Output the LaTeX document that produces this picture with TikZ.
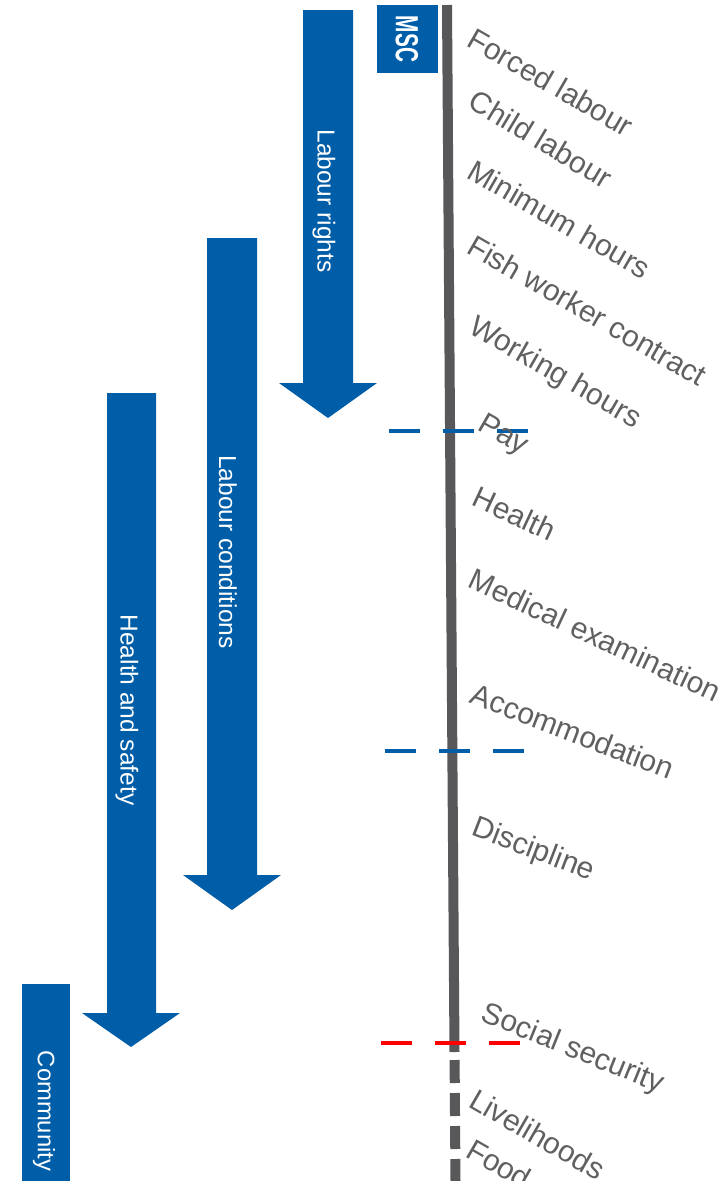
\documentclass[tikz,border=0pt]{standalone}
\usepackage{fontspec}
\setmainfont{Liberation Sans}
\usepackage{xcolor}
\usetikzlibrary{positioning, calc}
\definecolor{mscblue}{RGB}{0,94,168}
\definecolor{axisgrey}{RGB}{88,88,90}
\definecolor{topicgrey}{RGB}{96,96,96}

\begin{document}
\begin{tikzpicture}[x=1pt, y=-1pt,
    bar/.style={fill=mscblue},
    bartext/.style={text=white, rotate=-90, inner sep=0pt, font=\fontsize{24.5}{26}\selectfont},
    topic/.style={text=topicgrey, anchor=north west, inner sep=0pt, font=\fontsize{30}{32}\selectfont},
    axis/.style={draw=axisgrey, line width=10pt},
    split/.style={line width=3.5pt, dash pattern=on 31pt off 23pt}]
              \useasboundingbox (0,0) rectangle (718,1181);
              % the three blue arrows
              \fill[bar] (303,10) -- (353,10) -- (353,383) -- (377,383) -- (328,418) -- (279,383) -- (303,383) -- cycle;
              \fill[bar] (207,238) -- (257,238) -- (257,875) -- (281,875) -- (232,910) -- (183,875) -- (207,875) -- cycle;
              \fill[bar] (107,393) -- (156,393) -- (156,1013) -- (180,1013) -- (131,1047) -- (82,1013) -- (107,1013) -- cycle;
              \node[bartext] (rights) at (324,201) {Labour rights};
              \node[bartext] (cond) at (228,552) {Labour conditions};
              \node[bartext] (safety) at (127,710) {Health and safety};
              % boxes
              \fill[bar] (377,5) rectangle (438,73);
              \node[bartext, font=\fontsize{32}{34}\bfseries] (msc) at (407,39) {\scalebox{0.65}[1]{MSC}};
              \fill[bar] (22,984) rectangle (70,1181);
              \node[bartext, font=\fontsize{23.8}{25}\selectfont] (comm) at (44,1111) {Community};
              % the grey scale line
              \coordinate (top) at (447,5);
              \coordinate (mid) at (454.5,1052);
              \coordinate (low) at (454.6,1060);
              \coordinate (bot) at (455.5,1181);
              \draw[axis] (top) -- (mid);
              \draw[axis, dash pattern=on 23pt off 10pt] (low) -- (bot);
              \draw[split, mscblue] (389,431) -- (528,431);
              \draw[split, mscblue] (385,751) -- (525,751);
              \draw[split, red] (381,1043) -- (520,1043);
              % topics
              \node[topic, rotate=-30] (t1) at (476,26) {Forced labour};
              \node[topic, rotate=-31] (t2) at (478,88) {Child labour};
              \node[topic, rotate=-30] (t3) at (476,158) {Minimum hours};
              \node[topic, rotate=-30] (t4) at (476,233) {Fish worker contract};
              \node[topic, rotate=-30] (t5) at (478,313) {Working hours};
              \node[topic, rotate=-30] (t6) at (487,411) {Pay};
              \node[topic, rotate=-25] (t7) at (480,485) {Health};
              \node[topic, rotate=-25] (t8) at (476,567) {Medical examination};
              \node[topic, rotate=-21] (t9) at (476,682) {Accommodation};
              \node[topic, rotate=-21] (t10) at (478,814) {Discipline};
              \node[topic, rotate=-22] (t11) at (488,1000) {Social security};
              \node[topic, rotate=-30] (t12) at (478,1087) {Livelihoods};
              \node[topic, rotate=-30] (t13) at (475,1137) {Food};
%              \node[topic, rotate=-30] at (467,1190) {};
\end{tikzpicture}
\end{document}
